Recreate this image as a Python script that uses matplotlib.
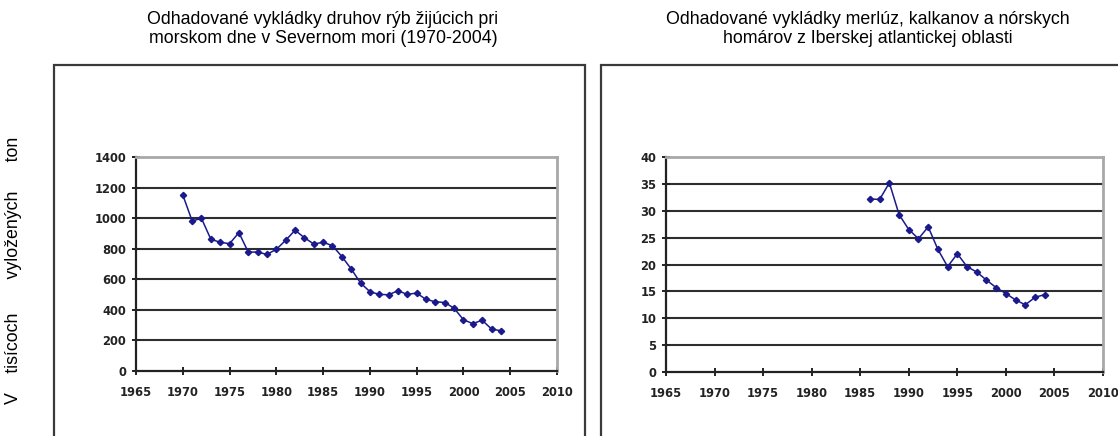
import matplotlib
matplotlib.use("Agg")
import matplotlib.pyplot as plt
from matplotlib.patches import Rectangle

# Severne more - bottom-dwelling species (thousand tonnes)
ns_years = list(range(1970, 2005))
ns_landings = [1152, 982, 998, 862, 842, 833, 905, 778, 778, 763,
               796, 855, 921, 872, 831, 842, 820, 749, 668, 576,
               519, 501, 499, 525, 501, 510, 468, 453, 448, 411,
               335, 310, 332, 275, 263]

# Iberian Atlantic - hake, megrim, Norway lobster (thousand tonnes)
ib_years = list(range(1986, 2005))
ib_landings = [32.2, 32.1, 35.2, 29.3, 26.5, 24.8, 27.0, 22.8, 19.6, 22.0,
               19.6, 18.6, 17.1, 15.7, 14.6, 13.4, 12.5, 13.9, 14.4]

x_ticks = [1965, 1970, 1975, 1980, 1985, 1990, 1995, 2000, 2005, 2010]
ns_yticks = [0, 200, 400, 600, 800, 1000, 1200, 1400]
ib_yticks = [0, 5, 10, 15, 20, 25, 30, 35, 40]

titles = ["Odhadované vykládky druhov rýb žijúcich pri\nmorskom dne v Severnom mori (1970-2004)",
          "Odhadované vykládky merlúz, kalkanov a nórskych\nhomárov z Iberskej atlantickej oblasti"]
ylabel = "V    tisícoch       vyložených      ton"

W, H = 1118, 436
fig = plt.figure(figsize=(W / 100, H / 100), dpi=100)

def fx(px):
    return px / W

def fy(py):
    return 1 - py / H

# outer frames
for x0, x1 in [(54, 585), (601, 1130)]:
    fig.patches.append(Rectangle((fx(x0), fy(460)), fx(x1 - x0), (460 - 65) / H,
                                 transform=fig.transFigure, fill=False,
                                 edgecolor="#3a3a3a", linewidth=1.6))

def panel(rect, years, vals, yticks, ymax):
    ax = fig.add_axes(rect)
    ax.plot(years, vals, color="#1a1a8c", linewidth=1.1, marker="D",
            markersize=3.2, markerfacecolor="#1a1a8c", markeredgecolor="#1a1a8c")
    ax.set_xlim(1965, 2010)
    ax.set_ylim(0, ymax)
    ax.set_xticks(x_ticks)
    ax.set_yticks(yticks)
    for v in yticks[1:-1]:
        ax.axhline(v, color="#2e2e2e", linewidth=1.5, zorder=0)
    for s in ["top", "right"]:
        ax.spines[s].set_color("#a8a8a8")
        ax.spines[s].set_linewidth(2.0)
    for s in ["left", "bottom"]:
        ax.spines[s].set_color("#222222")
        ax.spines[s].set_linewidth(1.6)
    ax.tick_params(direction="inout", length=6, width=1.4, color="#222222",
                   labelsize=8.3)
    ax.tick_params(axis="x", pad=8)
    ax.tick_params(axis="y", pad=4)
    for lab in ax.get_xticklabels() + ax.get_yticklabels():
        lab.set_fontweight("bold")
        lab.set_family("DejaVu Sans")
        lab.set_color("#222222")
    return ax

panel([fx(136), fy(371), fx(421), (371 - 157) / H], ns_years, ns_landings, ns_yticks, 1400)
panel([fx(666), fy(372), fx(437), (372 - 157) / H], ib_years, ib_landings, ib_yticks, 40)

fig.text(fx(323), fy(29), titles[0], ha="center", va="center", fontsize=12.8,
         family="Liberation Sans", linespacing=1.22)
fig.text(fx(868), fy(29), titles[1], ha="center", va="center", fontsize=12.8,
         family="Liberation Sans", linespacing=1.22)
fig.text(fx(14), fy(270), ylabel, rotation=90, ha="center", va="center",
         fontsize=12.8, family="Liberation Sans")

fig.savefig("out.png", dpi=100)
